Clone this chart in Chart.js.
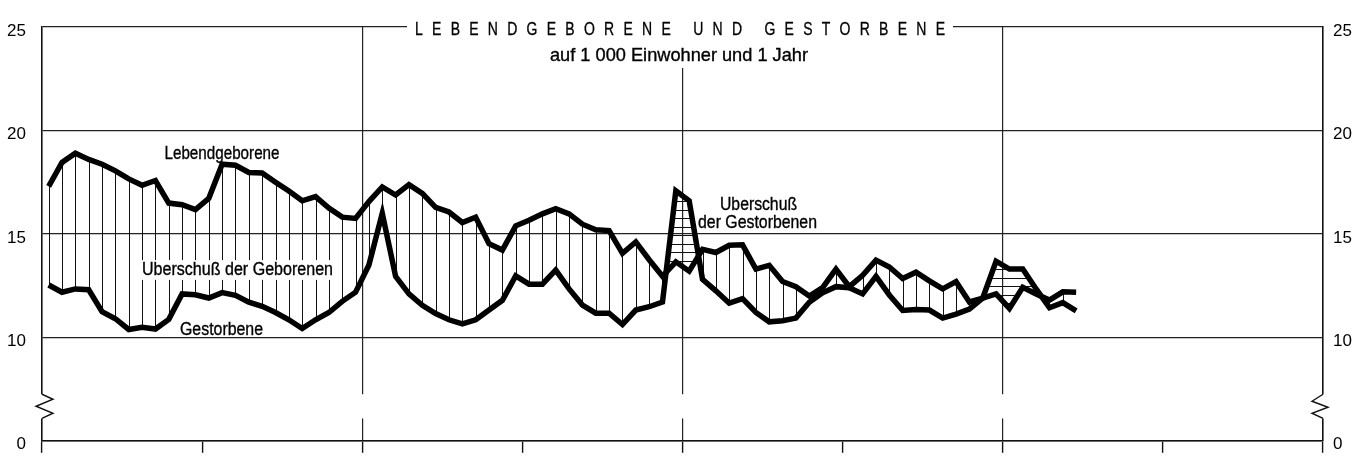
<!DOCTYPE html>
<html>
<head>
<meta charset="utf-8">
<script src="https://cdn.jsdelivr.net/npm/chart.js@4.4.1/dist/chart.umd.min.js"></script>
<style>html,body{margin:0;padding:0;background:#fff;}canvas{display:block;}</style>
</head>
<body>
<canvas id="c" width="1363" height="467"></canvas>
<script>
// Monthly rates per 1000 inhabitants and year (one value per month)
const births = [
  17.3, 18.45, 18.9, 18.6, 18.37, 18.05, 17.66, 17.35, 17.58, 16.49,
  16.41, 16.17, 16.72, 18.37, 18.32, 17.97, 17.94, 17.5, 17.07, 16.6,
  16.8, 16.25, 15.81, 15.75, 16.56, 17.27, 16.88, 17.38, 16.96, 16.28,
  16.06, 15.55, 15.81, 14.53, 14.22, 15.39, 15.66, 15.97, 16.22, 15.97,
  15.47, 15.2, 15.16, 14.06, 14.61, 13.75, 12.95, 13.65, 13.2, 14.25,
  14.1, 14.45, 14.47, 13.3, 13.48, 12.7, 12.45, 12.0, 12.4, 13.3,
  12.45, 13.0, 13.73, 13.4, 12.84, 13.15, 12.73, 12.34, 12.69, 11.71,
  11.9, 12.1, 11.4, 12.42, 12.1, 11.8, 12.2, 12.18
];
const deaths = [
  12.53, 12.18, 12.34, 12.3, 11.24, 10.9, 10.38, 10.49, 10.4, 10.87,
  12.1, 12.06, 11.9, 12.16, 12.03, 11.7, 11.5, 11.2, 10.85, 10.43,
  10.85, 11.2, 11.74, 12.18, 13.5, 16.0, 12.95, 12.1, 11.55, 11.15,
  10.85, 10.65, 10.85, 11.32, 11.79, 12.97, 12.57, 12.57, 13.25, 12.34,
  11.56, 11.17, 11.17, 10.62, 11.32, 11.48, 11.71, 17.08, 16.6, 12.8,
  12.25, 11.65, 11.87, 11.2, 10.75, 10.8, 10.93, 11.7, 12.15, 12.45,
  12.4, 12.1, 12.95, 12.05, 11.3, 11.35, 11.32, 10.93, 11.12, 11.37,
  11.9, 13.68, 13.3, 13.3, 12.34, 11.43, 11.68, 11.28
];
const monthsShown = 96;
const yAxisValues = [5, 10, 15, 20, 25];
const yAxisLabels = ['0', '10', '15', '20', '25'];
const titleText = 'LEBENDGEBORENE UND GESTORBENE';
const subtitleText = 'auf 1 000 Einwohner und 1 Jahr';
const labelBirths = 'Lebendgeborene';
const labelDeaths = 'Gestorbene';
const labelBirthExcess = 'Uberschuß der Geborenen';
const labelDeathExcess = ['Uberschuß', 'der Gestorbenen'];

const FONT = '"Liberation Sans", Arial, sans-serif';
const toPts = arr => arr.map((v, i) => ({ x: i + 0.5, y: v }));

function fitText(ctx, text, cx, cy, width, size, bg) {
  ctx.save();
  ctx.font = size + 'px ' + FONT;
  const w = ctx.measureText(text).width;
  if (bg) {
    ctx.fillStyle = '#fff';
    ctx.fillRect(cx - width / 2 - 4, cy - size * 0.55, width + 8, size * 1.1);
  }
  ctx.fillStyle = '#000';
  ctx.strokeStyle = '#000';
  ctx.lineWidth = 0.35;
  ctx.translate(cx, cy);
  ctx.scale(width / w, 1);
  ctx.textAlign = 'center';
  ctx.textBaseline = 'middle';
  ctx.fillText(text, 0, 0);
  ctx.strokeText(text, 0, 0);
  ctx.restore();
}

const hatchPlugin = {
  id: 'hatch',
  beforeDatasetsDraw(chart) {
    const { ctx, chartArea: ca, scales: { x, y } } = chart;
    const bP = births.map((v, i) => [x.getPixelForValue(i + 0.5), y.getPixelForValue(v)]);
    const dP = deaths.map((v, i) => [x.getPixelForValue(i + 0.5), y.getPixelForValue(v)]);
    const poly = (pts, edge) => {
      ctx.beginPath();
      ctx.moveTo(pts[0][0], pts[0][1]);
      for (let i = 1; i < pts.length; i++) ctx.lineTo(pts[i][0], pts[i][1]);
      ctx.lineTo(pts[pts.length - 1][0], edge);
      ctx.lineTo(pts[0][0], edge);
      ctx.closePath();
    };
    ctx.save();
    ctx.strokeStyle = '#111';
    ctx.lineWidth = 1;
    // births above deaths: vertical hatching at every month
    ctx.save();
    poly(bP, ca.bottom); ctx.clip();
    poly(dP, ca.top); ctx.clip();
    ctx.beginPath();
    for (let i = 0; i < births.length; i++) {
      const px = Math.round(x.getPixelForValue(i + 0.5)) + 0.5;
      ctx.moveTo(px, ca.top); ctx.lineTo(px, ca.bottom);
    }
    ctx.stroke();
    ctx.restore();
    // deaths above births: horizontal hatching
    ctx.save();
    poly(dP, ca.bottom); ctx.clip();
    poly(bP, ca.top); ctx.clip();
    ctx.beginPath();
    for (let py = ca.top + 4; py < ca.bottom; py += 8.5) {
      const yy = Math.round(py) + 0.5;
      ctx.moveTo(ca.left, yy); ctx.lineTo(ca.right, yy);
    }
    ctx.stroke();
    ctx.restore();
    ctx.restore();
  },
  afterDatasetsDraw(chart) {
    const { ctx } = chart;
    fitText(ctx, labelBirths, 222, 154, 115, 18);
    fitText(ctx, labelBirthExcess, 237.5, 270, 191, 18, true);
    fitText(ctx, labelDeaths, 221.5, 330.5, 83, 18);
    fitText(ctx, labelDeathExcess[0], 758.5, 205.5, 77, 18);
    fitText(ctx, labelDeathExcess[1], 757.5, 223, 119, 18);
  },
  afterDraw(chart) {
    const { ctx, chartArea: ca, scales: { y } } = chart;
    // axis break
    const yb1 = y.getPixelForValue(7.25), yb2 = y.getPixelForValue(6.08);
    ctx.save();
    ctx.fillStyle = '#fff';
    ctx.fillRect(ca.left - 3, yb1, ca.right - ca.left + 6, yb2 - yb1);
    ctx.strokeStyle = '#111';
    ctx.lineWidth = 1.4;
    ctx.beginPath();
    let x0 = ca.left;
    ctx.moveTo(x0, yb1); ctx.lineTo(x0 + 11, yb1 + 5); ctx.lineTo(x0 - 6, yb1 + 12);
    ctx.lineTo(x0 + 11, yb1 + 19); ctx.lineTo(x0, yb2);
    x0 = ca.right;
    ctx.moveTo(x0, yb1); ctx.lineTo(x0 - 11, yb1 + 7); ctx.lineTo(x0 + 5, yb1 + 13);
    ctx.lineTo(x0 - 11, yb1 + 19); ctx.lineTo(x0, yb2);
    ctx.stroke();
    // white gaps for title and subtitle
    ctx.fillRect(407, 18, 546, 18);
    ctx.fillRect(545, 36, 270, 32);
    ctx.restore();
    // title, letter-spaced
    ctx.save();
    ctx.font = '17.5px ' + FONT;
    ctx.fillStyle = '#000';
    ctx.strokeStyle = '#000';
    ctx.lineWidth = 0.3;
    ctx.textBaseline = 'middle';
    const sx = 0.8;
    const chars = titleText.split('');
    const ws = chars.map(c => ctx.measureText(c).width * sx);
    const total = ws.reduce((a, b) => a + b, 0);
    const startX = 415, endX = 945;
    const gap = (endX - startX - total) / (chars.length - 1);
    let cx = startX;
    chars.forEach((c, i) => {
      ctx.save();
      ctx.translate(cx, 30);
      ctx.scale(sx, 1);
      ctx.fillText(c, 0, 0);
      ctx.strokeText(c, 0, 0);
      ctx.restore();
      cx += ws[i] + gap;
    });
    ctx.restore();
    fitText(ctx, subtitleText, 679, 55.5, 258, 18.5);
  }
};

Chart.defaults.font.family = FONT;

new Chart(document.getElementById('c'), {
  type: 'line',
  data: {
    datasets: [
      { label: labelBirths, data: toPts(births), borderColor: '#000', borderWidth: 5.5, pointRadius: 0, tension: 0, borderJoinStyle: 'miter', fill: false },
      { label: labelDeaths, data: toPts(deaths), borderColor: '#000', borderWidth: 5.5, pointRadius: 0, tension: 0, borderJoinStyle: 'miter', fill: false }
    ]
  },
  options: {
    responsive: false,
    animation: false,
    devicePixelRatio: 1,
    layout: { padding: { top: 27, left: 0, right: 0, bottom: 0 } },
    plugins: { legend: { display: false }, tooltip: { enabled: false }, title: { display: false } },
    scales: {
      x: {
        type: 'linear', min: 0, max: monthsShown,
        ticks: { display: false, stepSize: 12 },
        grid: {
          color: c => (c.tick && c.tick.value % 24 === 0 && c.tick.value > 0 && c.tick.value < monthsShown) ? '#222' : 'rgba(0,0,0,0)',
          tickColor: '#111', tickLength: 12, lineWidth: 1.2, tickWidth: 1.4, borderDash: [18, 2]
        },
        border: { display: true, color: '#111', width: 1.6 },
        afterFit: s => { s.height = 14; }
      },
      y: {
        type: 'linear', position: 'left', min: 5, max: 25,
        ticks: { stepSize: 5, callback: v => yAxisLabels[yAxisValues.indexOf(v)], font: { size: 17 }, color: '#000', padding: 16, labelOffset: 4 },
        grid: { color: '#222', drawTicks: false, lineWidth: 1.2, borderDash: [18, 2] },
        border: { display: true, color: '#111', width: 1.6 },
        afterFit: s => { s.width = 42; }
      },
      y2: {
        type: 'linear', position: 'right', min: 5, max: 25,
        ticks: { stepSize: 5, callback: v => yAxisLabels[yAxisValues.indexOf(v)], font: { size: 17 }, color: '#000', padding: 10, labelOffset: 4 },
        grid: { drawOnChartArea: false, drawTicks: false },
        border: { display: true, color: '#111', width: 1.6 },
        afterFit: s => { s.width = 40; }
      }
    }
  },
  plugins: [hatchPlugin]
});
</script>
</body>
</html>
